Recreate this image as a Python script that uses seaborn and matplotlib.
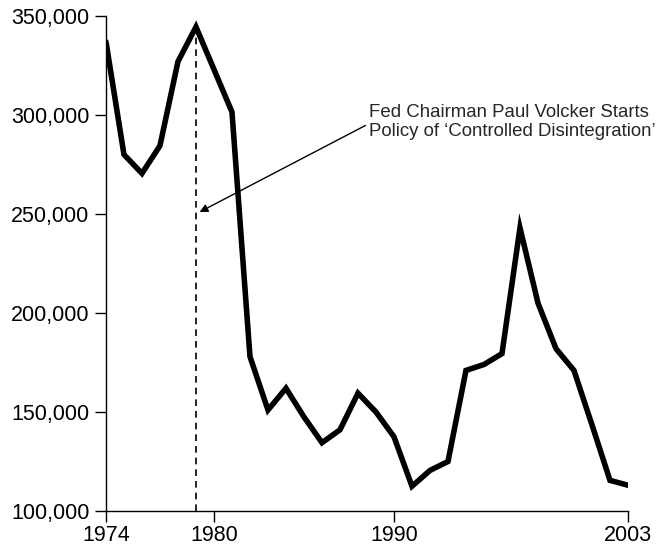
import numpy as np
import pandas as pd

import matplotlib
matplotlib.use('Agg')
import matplotlib.pyplot as plt
import matplotlib.ticker as mticker
import seaborn as sns

# yearly values
years = list(range(1974, 2004))
values = [337000, 280000, 270500, 284500, 327000, 344500, 323000, 301500,
          178000, 151000, 162000, 147500, 134500, 141000, 159500, 150000,
          137500, 112500, 120500, 125000, 171000, 174000, 179500, 243000,
          205000, 182000, 171000, 143500, 115500, 113000]

x_ticks = [1974, 1980, 1990, 2003]
y_ticks = [100000, 150000, 200000, 250000, 300000, 350000]
note = "Fed Chairman Paul Volcker Starts\nPolicy of \u2018Controlled Disintegration\u2019"

df = pd.DataFrame({'year': years, 'value': values})

sns.set_style('ticks')
plt.rcParams['font.family'] = ['Liberation Sans', 'DejaVu Sans']

fig = plt.figure(figsize=(6.69, 5.48), dpi=100)
ax = fig.add_axes([0.1584, 0.0675, 0.9387 - 0.1584, 0.9708 - 0.0675])

sns.lineplot(data=df, x='year', y='value', color='black', linewidth=4,
             solid_joinstyle='miter', ax=ax)

# dashed marker at the 1979 peak
peak = df.loc[df['value'].idxmax()]
ax.vlines(peak['year'], y_ticks[0], peak['value'], colors='black',
          linestyles=(0, (4, 3)), linewidth=1.2)

ax.annotate(note, xy=(1979.2, 251000), xytext=(1988.6, 296500),
            fontsize=13.4, ha='left', va='center', linespacing=1.15,
            arrowprops=dict(arrowstyle='-|>', color='black', lw=1,
                            mutation_scale=12, shrinkA=0, shrinkB=0,
                            relpos=(0, 0.45)))

ax.set_xlim(years[0], years[-1])
ax.set_ylim(y_ticks[0], y_ticks[-1])
ax.set_xticks(x_ticks)
ax.set_yticks(y_ticks)
ax.yaxis.set_major_formatter(mticker.FuncFormatter(lambda v, p: f'{int(v):,}'))
ax.tick_params(axis='both', labelsize=15.5, length=8, width=1, colors='black')
ax.tick_params(axis='y', pad=4)
ax.tick_params(axis='x', pad=2)
ax.set_xlabel('')
ax.set_ylabel('')
for side in ['top', 'right']:
    ax.spines[side].set_visible(False)
for side in ['left', 'bottom']:
    ax.spines[side].set_linewidth(1)
    ax.spines[side].set_color('black')

fig.savefig('out.png', dpi=100)
